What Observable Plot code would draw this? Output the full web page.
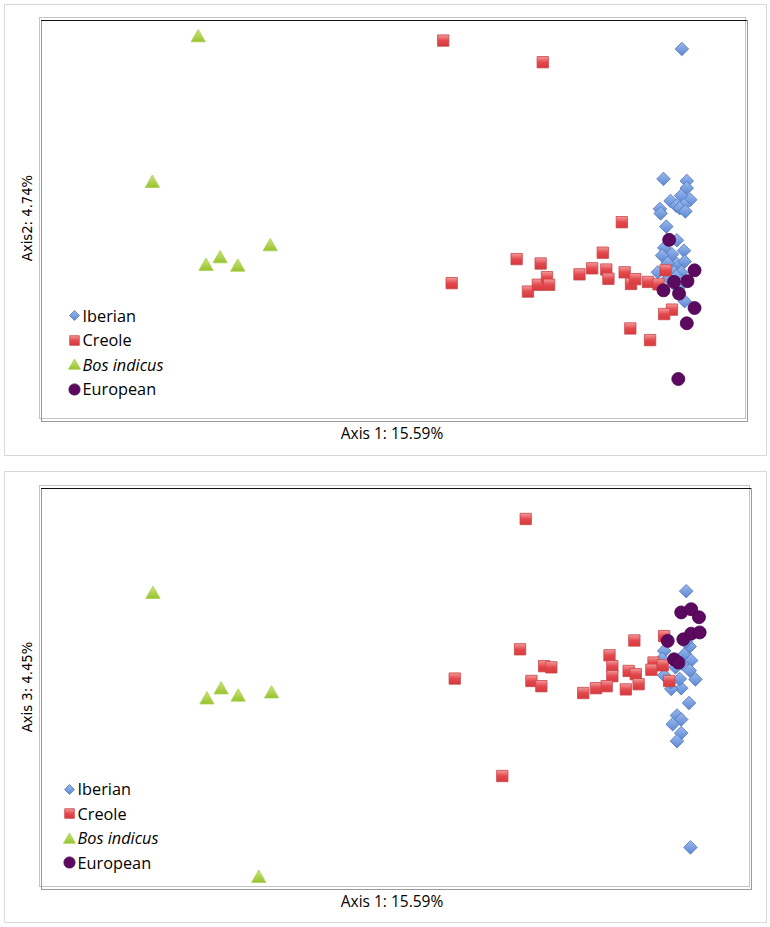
<!DOCTYPE html>
<html><head><meta charset="utf-8">
<script src="https://cdn.jsdelivr.net/npm/d3@7"></script>
<script src="https://cdn.jsdelivr.net/npm/@observablehq/plot@0.6"></script>
<style>
body{margin:0;background:#fff;}
#root{position:relative;width:770px;height:927px;overflow:hidden;font-family:"Open Sans",Lato,sans-serif;color:#000;}
.box{position:absolute;border:1px solid #d9d9d9;box-sizing:border-box;}
.plot{position:absolute;left:0;}
.xlab{position:absolute;font-size:15.5px;transform:translate(-50%,-50%);white-space:nowrap;}
.ylab{position:absolute;font-family:"DejaVu Sans",sans-serif;font-size:13.2px;transform:translate(-50%,-50%) rotate(-90deg);white-space:nowrap;}
.legrow{position:absolute;display:flex;align-items:center;white-space:nowrap;transform:translateY(-50%);font-size:16.3px;}
.legrow svg{margin-right:2px;}
</style></head><body><div id="root"></div>
<script>
// ---- data (PCoA coordinates, rescaled 0-100 on each axis) ----
const groups = ["Iberian", "Creole", "Bos indicus", "European"];

// Panel 1: Axis 1 vs Axis 2
const iberian12 = [[90.7,92.9],[88.1,60.5],[91.4,60.0],[91.4,58.2],[90.6,56.3],[89.1,55.0],[91.9,55.3],[89.9,53.8],[91.0,54.0],[90.4,53.2],[91.2,52.4],[87.6,53.0],[87.7,51.9],[88.5,48.6],[90.0,45.2],[88.2,43.3],[91.0,42.6],[89.3,41.7],[87.9,41.4],[90.0,39.3],[91.1,39.9],[88.7,39.5],[87.3,37.2],[89.6,37.2],[90.6,37.2],[91.1,30.0],[89.9,36.2],[88.8,35.7],[90.2,33.2]];
const creole12 = [[56.9,95.0],[71.0,89.6],[82.2,49.7],[67.3,40.5],[70.7,39.4],[79.5,42.1],[58.1,34.5],[68.9,32.4],[70.3,34.1],[71.6,36.0],[71.9,34.1],[76.2,36.7],[78.0,38.2],[80.0,37.9],[80.3,35.6],[82.6,37.2],[83.5,34.3],[84.1,35.5],[85.9,34.8],[87.4,34.2],[88.4,37.7],[89.3,27.9],[88.2,26.8],[83.4,23.2],[86.2,20.3]];
const indicus12 = [[22.2,95.7],[15.7,59.4],[23.3,38.7],[25.3,40.6],[27.8,38.5],[32.4,43.6]];
const european12 = [[88.9,45.3],[92.5,37.7],[89.6,34.8],[91.5,35.0],[88.1,32.7],[90.3,31.9],[92.5,28.3],[91.4,24.5],[90.2,10.6]];

// Panel 2: Axis 1 vs Axis 3
const iberian13 = [[90.8,74.4],[91.4,10.5],[87.7,59.5],[90.6,58.7],[91.3,60.6],[91.5,57.1],[90.2,56.3],[91.3,54.6],[92.1,52.4],[90.1,50.2],[88.7,50.0],[91.2,46.5],[89.5,43.4],[90.1,42.4],[88.9,41.2],[90.1,39.0],[89.5,37.0],[87.4,57.5],[87.7,53.4],[89.9,52.5],[88.6,51.7],[90.8,61.8],[89.3,55.4]];
const creole13 = [[68.2,92.4],[58.2,52.6],[67.4,59.9],[64.9,28.3],[70.8,55.7],[71.8,55.4],[69.0,52.0],[70.4,50.7],[83.5,62.1],[87.7,63.2],[80.0,58.4],[80.4,55.7],[80.4,53.2],[76.3,49.0],[78.1,50.2],[79.6,50.7],[82.3,49.9],[82.7,54.5],[83.7,53.7],[84.1,51.2],[86.2,56.6],[85.9,54.8],[87.5,55.9],[88.4,52.0]];
const indicus13 = [[15.7,73.6],[23.3,47.3],[25.3,49.8],[27.7,48.0],[32.4,48.8],[30.6,2.8]];
const european13 = [[90.1,69.1],[91.5,69.9],[92.6,67.9],[88.2,62.0],[90.4,62.4],[91.5,63.8],[92.7,64.1],[89.1,57.4],[89.7,56.6]];

const xLabel = "Axis 1: 15.59%";
const yLabels = ["Axis2: 4.74%", "Axis 3: 4.45%"];

// ---- styles ----
const styles = {
  "Iberian":     {symbol: "diamond2", r: 6.1,  fill: "url(#gBlue)",  stroke: "#5075b9"},
  "Creole":      {symbol: "square",   r: 6.4,  fill: "url(#gRed)",   stroke: "#c9464a"},
  "Bos indicus": {symbol: "triangle", r: 5.3,  fill: "url(#gGreen)", stroke: "#a9cf52"},
  "European":    {symbol: "circle",   r: 6.5,  fill: "#5b0a5f",      stroke: "#4a0150"}
};

const root = document.getElementById("root");
const NS = "http://www.w3.org/2000/svg";

// gradients
const defsSvg = document.createElementNS(NS, "svg");
defsSvg.setAttribute("width", 0); defsSvg.setAttribute("height", 0);
defsSvg.style.position = "absolute";
defsSvg.innerHTML = `<defs>
<linearGradient id="gBlue" x1="0" y1="0" x2="0" y2="1"><stop offset="0" stop-color="#9ab9ef"/><stop offset="1" stop-color="#5d88d4"/></linearGradient>
<linearGradient id="gRed" x1="0" y1="0" x2="0" y2="1"><stop offset="0" stop-color="#f49a9b"/><stop offset="0.5" stop-color="#e4494e"/><stop offset="1" stop-color="#d6393e"/></linearGradient>
<linearGradient id="gGreen" x1="0" y1="0" x2="0" y2="1"><stop offset="0" stop-color="#cde57a"/><stop offset="1" stop-color="#96c22c"/></linearGradient>
</defs>`;
root.appendChild(defsSvg);

function legendIcon(g) {
  const s = styles[g];
  const svg = document.createElementNS(NS, "svg");
  svg.setAttribute("width", 13); svg.setAttribute("height", 13);
  const size = {"diamond2": 62, "square": 92, "triangle": 62, "circle": 0}[s.symbol];
  let el;
  if (s.symbol === "circle") {
    el = document.createElementNS(NS, "circle");
    el.setAttribute("cx", 6.5); el.setAttribute("cy", 6.5); el.setAttribute("r", 5.6);
  } else {
    const sym = {"diamond2": d3.symbolDiamond2, "square": d3.symbolSquare, "triangle": d3.symbolTriangle}[s.symbol];
    el = document.createElementNS(NS, "path");
    el.setAttribute("d", d3.symbol(sym, size)());
    el.setAttribute("transform", s.symbol === "triangle" ? "translate(6.5,7.8)" : "translate(6.5,6.5)");
  }
  el.setAttribute("fill", s.fill);
  el.setAttribute("stroke", s.stroke);
  el.setAttribute("stroke-width", 0.8);
  svg.appendChild(el);
  return svg;
}

function panel(cfg) {
  const box = document.createElement("div");
  box.className = "box";
  Object.assign(box.style, {left: "4px", top: cfg.boxTop + "px", width: "763px", height: cfg.boxH + "px"});
  root.appendChild(box);

  const series = [cfg.iberian, cfg.creole, cfg.indicus, cfg.european];
  const dots = groups.map((g, i) => {
    const s = styles[g];
    return Plot.dot(series[i], {x: d => d[0], y: d => d[1], symbol: s.symbol, r: s.r, fill: s.fill, stroke: s.stroke, strokeWidth: 0.8});
  });

  const chart = Plot.plot({
    width: 770, height: cfg.h,
    marginLeft: 41, marginRight: cfg.mr, marginTop: 20, marginBottom: cfg.mb,
    x: {domain: [0, 100], axis: null},
    y: {domain: [0, 100], axis: null},
    marks: [
      Plot.frame({stroke: "#c4c4c4", insetLeft: -2, insetTop: -3, insetRight: 2, insetBottom: 3}),
      Plot.frame({stroke: "#9a9a9a"}),
      Plot.ruleY([100], {stroke: "#111", strokeWidth: 1.2}),
      ...dots
    ]
  });
  chart.classList.add("plot");
  chart.style.top = cfg.top + "px";
  chart.style.background = "transparent";
  root.appendChild(chart);

  const xl = document.createElement("div");
  xl.className = "xlab"; xl.textContent = xLabel;
  Object.assign(xl.style, {left: "392px", top: cfg.xlabY + "px"});
  root.appendChild(xl);

  const yl = document.createElement("div");
  yl.className = "ylab"; yl.textContent = cfg.ylabel;
  Object.assign(yl.style, {left: "27px", top: cfg.ylabY + "px"});
  root.appendChild(yl);

  groups.forEach((g, i) => {
    const row = document.createElement("div");
    row.className = "legrow";
    Object.assign(row.style, {left: (cfg.legX - 6.5) + "px", top: (cfg.legY + i * 24.5) + "px"});
    row.appendChild(legendIcon(g));
    const t = document.createElement("span");
    t.textContent = g;
    if (g === "Bos indicus") t.style.fontStyle = "italic";
    row.appendChild(t);
    root.appendChild(row);
  });
}

panel({top: 0, h: 455, mr: 23, mb: 34, boxTop: 4, boxH: 452,
  iberian: iberian12, creole: creole12, indicus: indicus12, european: european12,
  ylabel: yLabels[0], xlabY: 433, ylabY: 218, legX: 74, legY: 315.5});

panel({top: 468, h: 455, mr: 19, mb: 34, boxTop: 471, boxH: 452,
  iberian: iberian13, creole: creole13, indicus: indicus13, european: european13,
  ylabel: yLabels[1], xlabY: 901, ylabY: 687, legX: 69, legY: 789});
</script></body></html>
